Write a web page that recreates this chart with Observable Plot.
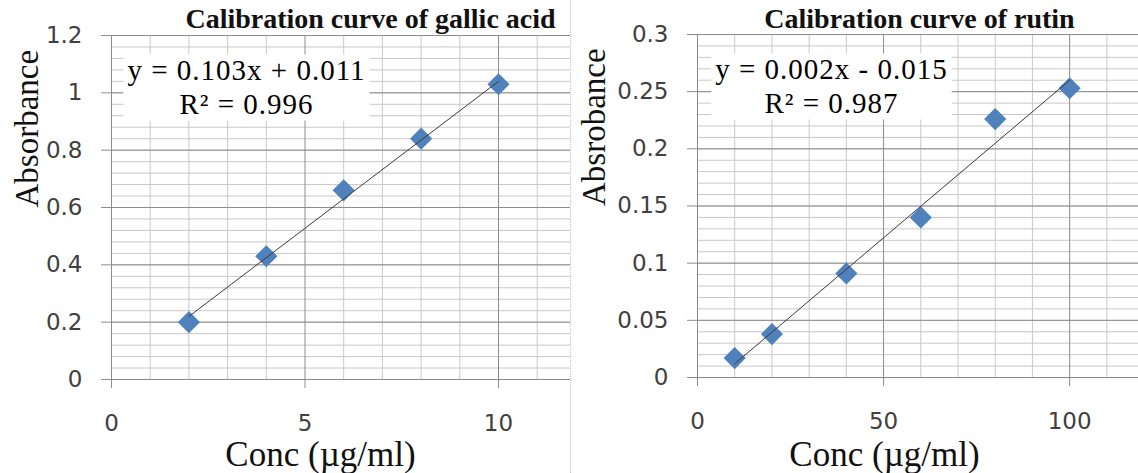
<!DOCTYPE html>
<html><head><meta charset="utf-8">
<script src="https://cdn.jsdelivr.net/npm/d3@7"></script>
<script src="https://cdn.jsdelivr.net/npm/@observablehq/plot@0.6"></script>
<style>
html,body{margin:0;padding:0;background:#fff;}
#wrap{display:flex;width:1138px;height:473px;overflow:hidden;}
#left{width:570px;height:473px;flex:none;}
#right{width:567px;height:473px;flex:none;border-left:1px dotted #c4c4c4;}
svg{display:block;}
</style></head><body>
<div id="wrap"><div id="left"></div><div id="right"></div></div>
<script>
// ---- data ----
const gallicConc = [2, 4, 6, 8, 10];
const gallicAbs = [0.2, 0.43, 0.66, 0.84, 1.03];
const gallicTrendConc = [2, 10];
const gallicTrendAbs = [0.22, 1.04];

const rutinConc = [10, 20, 40, 60, 80, 100];
const rutinAbs = [0.017, 0.038, 0.091, 0.14, 0.226, 0.253];
const rutinTrendConc = [10, 100];
const rutinTrendAbs = [0.012, 0.26];

const titles = ["Calibration curve of gallic acid", "Calibration curve of rutin"];
const xTitles = ["Conc (µg/ml)", "Conc (µg/ml)"];
const yTitles = ["Absorbance", "Absrobance"];
const equations = ["y = 0.103x + 0.011\nR² = 0.996", "y = 0.002x - 0.015\nR² = 0.987"];

const gallicXTicks = [0, 5, 10];
const gallicXMinor = [1, 2, 3, 4, 6, 7, 8, 9, 11];
const gallicYTicks = [0, 0.2, 0.4, 0.6, 0.8, 1, 1.2];
const gallicYMinor = d3.range(0.04, 1.2, 0.04);

const rutinXTicks = [0, 50, 100];
const rutinXMinor = [10, 20, 30, 40, 60, 70, 80, 90, 110];
const rutinYTicks = [0, 0.05, 0.1, 0.15, 0.2, 0.25, 0.3];
const rutinYMinor = d3.range(0.01, 0.3, 0.01);

const BLUE = "#4f81bd";
const MAJOR = "#8c8c8c";
const MINOR = "#c8c8c8";

function makeChart(o) {
  return Plot.plot({
    width: o.width, height: 473,
    marginLeft: o.marginLeft, marginRight: 0, marginTop: o.marginTop, marginBottom: o.marginBottom,
    x: {domain: o.xDomain},
    y: {domain: o.yDomain},
    style: {background: "white", overflow: "visible"},
    marks: [
      Plot.gridX(o.xMinor, {stroke: MINOR, strokeOpacity: 1}),
      Plot.gridY(o.yMinor, {stroke: MINOR, strokeOpacity: 1}),
      Plot.gridX(o.xTicks, {stroke: MAJOR, strokeOpacity: 1}),
      Plot.gridY(o.yTicks, {stroke: MAJOR, strokeOpacity: 1}),
      Plot.axisY(o.yTicks, {tickSize: 10, tickPadding: 19, stroke: MAJOR, fill: "#404040",
        fontSize: 23, fontFamily: "DejaVu Sans", tickFormat: d => String(d), label: null}),
      Plot.axisX(o.xTicks, {tickSize: 9, tickPadding: 26, stroke: MAJOR, fill: "#404040",
        fontSize: 23, fontFamily: "DejaVu Sans", tickFormat: d => String(d), label: null}),
      Plot.text([o.eq], {frameAnchor: "top-left", dx: o.eqDx, dy: o.eqDy, textAnchor: "middle",
        lineAnchor: "bottom", lineHeight: 1.14, fontSize: 29, fontFamily: "Liberation Serif", fill: "#000"}),
      Plot.dot(o.conc, {x: o.conc, y: o.abs, symbol: "diamond2", r: 10, fill: BLUE, stroke: "none"}),
      Plot.line(o.tConc, {x: o.tConc, y: o.tAbs, stroke: "#3a3a3a", strokeWidth: 1}),
      Plot.text([o.title], {frameAnchor: "top", dx: o.titleDx, dy: o.titleDy, lineAnchor: "bottom",
        fontSize: 28, fontWeight: "bold", fontFamily: "Liberation Serif", fill: "#111"}),
      Plot.text([o.xTitle], {frameAnchor: "bottom", dx: o.xTitleDx, dy: o.xTitleDy, lineAnchor: "bottom",
        fontSize: 35, fontFamily: "Liberation Serif", fill: "#111"}),
      Plot.text([o.yTitle], {frameAnchor: "left", dx: o.yTitleDx, rotate: -90, lineAnchor: "bottom",
        fontSize: 33, fontFamily: "Liberation Serif", fill: "#111"})
    ]
  });
}

const left = makeChart({
  width: 570, marginLeft: 111, marginTop: 35, marginBottom: 94,
  xDomain: [0, 11.86], yDomain: [0, 1.2],
  xTicks: gallicXTicks, xMinor: gallicXMinor, yTicks: gallicYTicks, yMinor: gallicYMinor,
  conc: gallicConc, abs: gallicAbs, tConc: gallicTrendConc, tAbs: gallicTrendAbs,
  eq: equations[0], eqDx: 135, eqDy: 78,
  title: titles[0], titleDx: 29.5, titleDy: -8,
  xTitle: xTitles[0], xTitleDx: -20.5, xTitleDy: 86,
  yTitle: yTitles[0], yTitleDx: -74
});
const right = makeChart({
  width: 567, marginLeft: 126, marginTop: 34, marginBottom: 96,
  xDomain: [0, 118.5], yDomain: [0, 0.3],
  xTicks: rutinXTicks, xMinor: rutinXMinor, yTicks: rutinYTicks, yMinor: rutinYMinor,
  conc: rutinConc, abs: rutinAbs, tConc: rutinTrendConc, tAbs: rutinTrendAbs,
  eq: equations[1], eqDx: 134, eqDy: 78,
  title: titles[1], titleDx: 1.5, titleDy: -7,
  xTitle: xTitles[1], xTitleDx: -33.5, xTitleDy: 88,
  yTitle: yTitles[1], yTitleDx: -93
});
document.getElementById("left").appendChild(left);
document.getElementById("right").appendChild(right);

// white background box behind each trendline equation (as in the spreadsheet label)
for (const svg of [left, right]) {
  svg.querySelectorAll("text").forEach(t => {
    if (!t.textContent.includes("R²")) return;
    t.style.letterSpacing = "1px";
    const b = t.getBBox();
    const rect = document.createElementNS("http://www.w3.org/2000/svg", "rect");
    rect.setAttribute("x", b.x - 4);
    rect.setAttribute("y", b.y);
    rect.setAttribute("width", b.width + 8);
    rect.setAttribute("height", b.height + 1);
    rect.setAttribute("fill", "white");
    const tr = t.getAttribute("transform");
    if (tr) rect.setAttribute("transform", tr);
    t.parentNode.insertBefore(rect, t);
  });
}
</script>
</body></html>
